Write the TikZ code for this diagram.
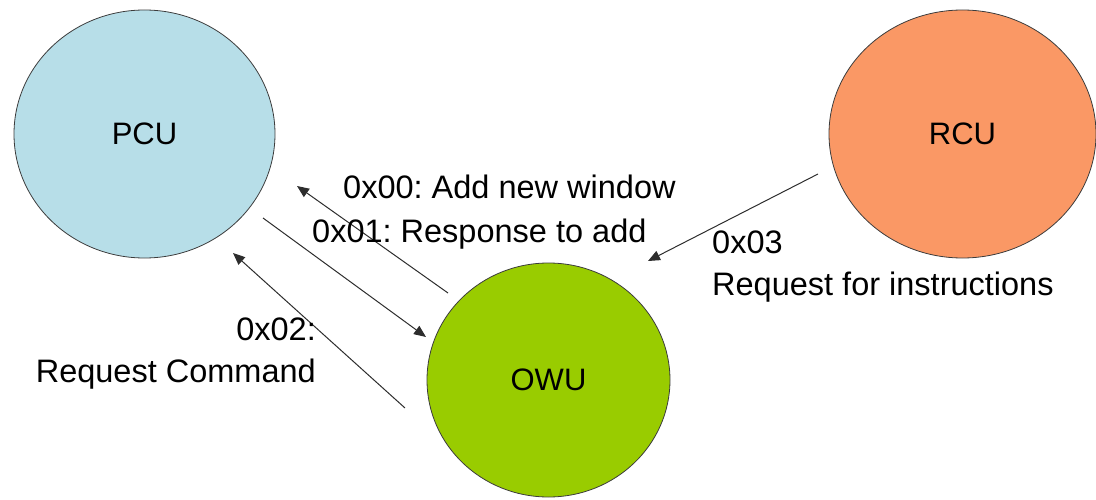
\documentclass[tikz,border=0pt]{standalone}
\usepackage{fontspec}
\setmainfont{Liberation Sans}
\usetikzlibrary{shapes.geometric,arrows.meta}
\frenchspacing

\definecolor{pcufill}{RGB}{183,222,232}
\definecolor{rcufill}{RGB}{250,152,101}
\definecolor{owufill}{RGB}{153,204,0}
\definecolor{rim}{RGB}{60,60,60}
\definecolor{wire}{RGB}{45,45,45}

\tikzset{
  unit/.style={ellipse, draw=rim, line width=0.8pt, inner sep=0pt,
               font=\fontsize{31}{36}\selectfont},
  msg/.style={draw=wire, line width=1pt,
              -{Triangle[length=12pt,width=10pt]}},
  lbl/.style={inner sep=0pt, font=\fontsize{32.5}{38}\selectfont}
}

\begin{document}
\begin{tikzpicture}[x=1pt,y=-1pt]
  \useasboundingbox (0,0) rectangle (1096,500);

  % processing units
  \node[unit, fill=pcufill, minimum width=261pt, minimum height=248pt] (PCU) at (144.5,134) {PCU};
  \node[unit, fill=rcufill, minimum width=267pt, minimum height=248pt] (RCU) at (962.5,134) {RCU};
  \node[unit, fill=owufill, minimum width=243pt, minimum height=234pt] (OWU) at (548.5,380) {OWU};

  % message end points
  \coordinate (m0s) at (448,293);
  \coordinate (m0e) at (297,186);
  \coordinate (m1s) at (263,218);
  \coordinate (m1e) at (426,337);
  \coordinate (m2s) at (405,408);
  \coordinate (m2e) at (233,253);
  \coordinate (m3s) at (818,174);
  \coordinate (m3e) at (648,261);

  \draw[msg] (m0s) -- (m0e);
  \draw[msg] (m1s) -- (m1e);
  \draw[msg] (m2s) -- (m2e);
  \draw[msg] (m3s) -- (m3e);

  % message labels
  \node[lbl, anchor=base west] (t0) at (343,199) {0x00: Add new window};
  \node[lbl, anchor=base west] (t1) at (312,243) {0x01: Response to add};
  \node[lbl, anchor=base east] (t2a) at (316,340) {0x02:};
  \node[lbl, anchor=base east] (t2b) at (316,382) {Request Command};
  \node[lbl, anchor=base west] (t3a) at (712,253) {0x03};
  \node[lbl, anchor=base west] (t3b) at (712,295) {Request for instructions};
\end{tikzpicture}
\end{document}
